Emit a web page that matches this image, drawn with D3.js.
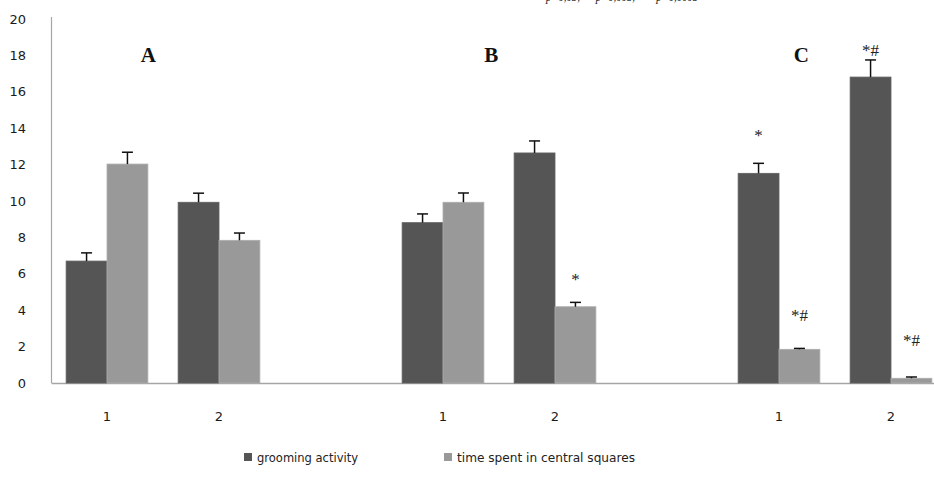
<!DOCTYPE html>
<html>
<head>
<meta charset="utf-8">
<script src="https://cdn.jsdelivr.net/npm/d3@7"></script>
<style>
  html, body { margin: 0; padding: 0; background: #fff; }
  svg { display: block; }
</style>
</head>
<body>
<svg id="chart" width="934" height="496"></svg>
<script>
// ---- data ----
const slots = ["A1", "A2", "gapAB", "B1", "B2", "gapBC", "C1", "C2"];
const slotLabels = ["1", "2", "", "1", "2", "", "1", "2"];
const barSlots = ["A1", "A2", "B1", "B2", "C1", "C2"];
const groupNames = ["A", "B", "C"];
const groupFirstSlot = ["A1", "B1", "C1"];
const seriesNames = ["grooming activity", "time spent in central squares"];
const seriesColors = ["#555555", "#999999"];
const grooming = [6.70, 9.93, 8.81, 12.64, 11.52, 16.81];
const groomingErr = [0.45, 0.50, 0.48, 0.66, 0.55, 0.94];
const central = [12.03, 7.84, 9.93, 4.19, 1.85, 0.26];
const centralErr = [0.65, 0.40, 0.51, 0.24, 0.05, 0.07];
const groomingMarks = ["", "", "", "", "*", "*#"];
const groomingMarkLevel = [0, 0, 0, 0, 13.6, 18.3];
const centralMarks = ["", "", "", "*", "*#", "*#"];
const centralMarkLevel = [0, 0, 0, 5.7, 3.75, 2.35];
const yTicks = [0, 2, 4, 6, 8, 10, 12, 14, 16, 18, 20];
const noteText = "* p<0,05, ** p<0,005, *** p<0,0005";

// ---- layout ----
const svg = d3.select("#chart");
const x0 = 51, xEnd = 947, yTop = 19, yBase = 383;

const x = d3.scaleBand().domain(slots).range([x0, xEnd]).padding(0);
const x1 = d3.scaleBand().domain(seriesNames).range([0, x.bandwidth()])
  .paddingInner(0).paddingOuter(0.37);
const y = d3.scaleLinear().domain([0, 20]).range([yBase, yTop]);

// top note (cut off at the top edge, as in the reference)
svg.append("text")
  .attr("x", 538).attr("y", 1)
  .attr("font-family", "Liberation Serif, Times New Roman, serif")
  .attr("font-style", "italic")
  .attr("font-size", 15)
  .attr("fill", "#222")
  .attr("textLength", 160)
  .attr("lengthAdjust", "spacingAndGlyphs")
  .text(noteText);

// y axis
const yAxis = d3.axisLeft(y).tickValues(yTicks).tickSize(0).tickPadding(25).tickFormat(d3.format("d"));
const gy = svg.append("g").attr("transform", `translate(${x0},0)`).call(yAxis);
gy.select(".domain").attr("stroke", "#a6a6a6").attr("stroke-width", 1.2)
  .attr("d", `M0.5,${yTop - 2}V${yBase}`);
gy.selectAll("text").attr("font-family", "DejaVu Sans, Verdana, sans-serif")
  .attr("font-size", 13).attr("fill", "#1a1a1a");

// x axis
const xAxis = d3.axisBottom(x).tickSize(0).tickPadding(29).tickFormat((d, i) => slotLabels[i]);
const gx = svg.append("g").attr("transform", `translate(0,${yBase})`).call(xAxis);
gx.select(".domain").attr("stroke", "#a6a6a6").attr("stroke-width", 1.5);
gx.selectAll("text").attr("font-family", "DejaVu Sans, Verdana, sans-serif")
  .attr("font-size", 13).attr("fill", "#1a1a1a");

// bars
const seriesData = [
  { name: seriesNames[0], values: grooming, errs: groomingErr, marks: groomingMarks, levels: groomingMarkLevel, color: seriesColors[0] },
  { name: seriesNames[1], values: central, errs: centralErr, marks: centralMarks, levels: centralMarkLevel, color: seriesColors[1] }
];

seriesData.forEach(s => {
  const g = svg.append("g");
  barSlots.forEach((slot, i) => {
    const bx = x(slot) + x1(s.name);
    const bw = x1.bandwidth();
    const v = s.values[i];
    g.append("rect")
      .attr("x", bx).attr("y", y(v))
      .attr("width", bw).attr("height", yBase - y(v))
      .attr("fill", s.color)
      .attr("stroke", d3.color(s.color).brighter(0.35)).attr("stroke-width", 0.8);
    // error bar
    const cx = bx + bw / 2;
    const top = y(v + s.errs[i]);
    g.append("line").attr("x1", cx).attr("x2", cx).attr("y1", y(v)).attr("y2", top)
      .attr("stroke", "#111").attr("stroke-width", 1.5);
    g.append("line").attr("x1", cx - 5.5).attr("x2", cx + 5.5).attr("y1", top).attr("y2", top)
      .attr("stroke", "#111").attr("stroke-width", 1.5);
    // significance marks
    if (s.marks[i]) {
      g.append("text")
        .attr("x", cx).attr("y", y(s.levels[i]))
        .attr("dy", "0.35em")
        .attr("text-anchor", "middle")
        .attr("font-family", "Liberation Serif, Times New Roman, serif")
        .attr("font-size", 17)
        .attr("fill", "#222")
        .text(s.marks[i]);
    }
  });
});

// group labels
const groupOffsets = [0.37, 0.43, 0.2];
groupNames.forEach((gname, i) => {
  const slot = groupFirstSlot[i];
  svg.append("text")
    .attr("x", x(slot) + x.bandwidth() / 2 + x.bandwidth() * groupOffsets[i])
    .attr("y", 62)
    .attr("text-anchor", "middle")
    .attr("font-family", "Liberation Serif, Times New Roman, serif")
    .attr("font-weight", "bold")
    .attr("font-size", 21)
    .attr("fill", "#111")
    .text(gname);
});

// legend
const legendX = [244, 444];
const legendTextW = [101, 178];
seriesData.forEach((s, i) => {
  svg.append("rect").attr("x", legendX[i]).attr("y", 453).attr("width", 8).attr("height", 8)
    .attr("fill", s.color);
  svg.append("text").attr("x", legendX[i] + 13).attr("y", 462)
    .attr("font-family", "DejaVu Sans, Verdana, sans-serif")
    .attr("font-size", 12.5)
    .attr("fill", "#222")
    .attr("textLength", legendTextW[i])
    .attr("lengthAdjust", "spacingAndGlyphs")
    .text(s.name);
});
</script>
</body>
</html>
